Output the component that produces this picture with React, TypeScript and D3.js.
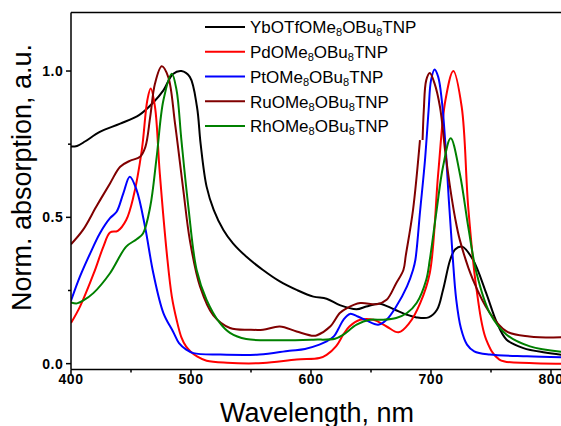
import React from "react";
import * as d3 from "d3";

// Absorption spectra, normalised, wavelength in nm
const ybNm = [400, 405, 412, 424, 441, 457, 468, 477, 485, 492, 499, 505, 508, 513, 519, 527, 535, 546, 560, 574, 588, 602, 613, 624, 638, 646, 657, 669, 680, 688, 698, 705, 710, 716, 720, 726, 735, 746, 755, 763, 777, 795, 810];
const ybAbs = [0.742, 0.744, 0.76, 0.792, 0.82, 0.85, 0.89, 0.934, 0.99, 1.0, 0.98, 0.877, 0.752, 0.605, 0.525, 0.457, 0.411, 0.366, 0.32, 0.281, 0.252, 0.229, 0.222, 0.2, 0.186, 0.195, 0.205, 0.186, 0.167, 0.158, 0.158, 0.184, 0.252, 0.355, 0.39, 0.4, 0.355, 0.241, 0.139, 0.082, 0.053, 0.038, 0.03];

const pdNm = [400, 407.5, 419, 427, 432.5, 439, 446, 452, 459, 463.6, 466.4, 470, 474, 480, 484, 488, 492, 496, 500, 505, 513, 530, 560, 588, 607, 613, 621, 627, 632, 641, 652, 663, 673, 682, 691, 699, 706, 712, 718.6, 725.6, 731, 738, 746, 757, 782, 810];
const pdAbs = [0.139, 0.195, 0.309, 0.4, 0.448, 0.454, 0.491, 0.57, 0.73, 0.9, 0.94, 0.877, 0.65, 0.37, 0.23, 0.15, 0.09, 0.058, 0.04, 0.025, 0.01, 0.003, 0.002, 0.014, 0.019, 0.03, 0.06, 0.1, 0.127, 0.15, 0.15, 0.127, 0.107, 0.139, 0.207, 0.31, 0.65, 0.9, 1.0, 0.877, 0.536, 0.252, 0.082, 0.014, 0.002, 0.0];

const ptNm = [400, 407.5, 416, 424, 432.5, 438, 443.6, 449, 454.7, 461.7, 468.6, 477, 485, 490, 496, 502, 524, 557, 582, 595, 607, 613, 619, 623, 627, 632.5, 639, 646, 656, 663, 671, 680, 685, 687, 691, 695, 698, 700, 703, 706, 709, 712, 715, 718, 721, 725, 730, 736, 749, 780, 810];
const ptAbs = [0.215, 0.298, 0.377, 0.445, 0.497, 0.519, 0.582, 0.639, 0.593, 0.468, 0.309, 0.173, 0.11, 0.07, 0.048, 0.036, 0.031, 0.031, 0.044, 0.05, 0.065, 0.076, 0.093, 0.12, 0.15, 0.17, 0.161, 0.148, 0.133, 0.15, 0.195, 0.264, 0.32, 0.355, 0.525, 0.696, 0.866, 0.968, 1.005, 0.98, 0.9, 0.75, 0.55, 0.37, 0.22, 0.12, 0.065, 0.042, 0.031, 0.025, 0.022];

// the Ru trace has a break near 692 nm (null = gap)
const ruNm = [400, 410, 421, 432.5, 441, 449, 457.5, 462, 466, 470, 475.6, 481, 486.7, 493.6, 499, 507.5, 518.6, 532.5, 549, 560, 574, 588, 602, 605, 616, 624, 630, 641, 655, 663, 671, 677, 679, 685, 690.8, 692, 693, 694, 696, 699, 703, 707.5, 712, 716, 720, 724, 735, 749, 763, 782, 810];
const ruAbs = [0.408, 0.457, 0.536, 0.616, 0.673, 0.693, 0.707, 0.741, 0.843, 0.957, 1.016, 0.98, 0.82, 0.593, 0.423, 0.264, 0.165, 0.122, 0.116, 0.116, 0.127, 0.11, 0.095, 0.097, 0.127, 0.173, 0.19, 0.207, 0.203, 0.218, 0.275, 0.32, 0.37, 0.525, 0.764, null, 0.764, 0.866, 0.968, 0.993, 0.957, 0.877, 0.72, 0.6, 0.5, 0.423, 0.286, 0.173, 0.11, 0.093, 0.09];

const rhNm = [400, 405, 410, 418.6, 432.5, 446, 454.7, 460, 466, 471.4, 477, 484, 488, 492, 497.8, 504.7, 513, 524, 532.5, 546, 574, 602, 620, 627, 638, 649, 660, 671, 680, 688, 696, 699, 704.7, 710, 716.4, 724, 731, 738, 749, 763, 782.5, 810];
const rhAbs = [0.209, 0.206, 0.215, 0.241, 0.309, 0.4, 0.425, 0.445, 0.536, 0.707, 0.9, 0.991, 0.934, 0.764, 0.536, 0.32, 0.218, 0.139, 0.105, 0.084, 0.08, 0.082, 0.085, 0.099, 0.133, 0.15, 0.15, 0.156, 0.173, 0.207, 0.286, 0.355, 0.525, 0.673, 0.77, 0.65, 0.468, 0.309, 0.173, 0.099, 0.059, 0.04];

const seriesNames = ["YbOTfOMe_8OBu_8TNP", "PdOMe_8OBu_8TNP", "PtOMe_8OBu_8TNP", "RuOMe_8OBu_8TNP", "RhOMe_8OBu_8TNP"];
const seriesColors = ["#000000", "#ff0000", "#0000ff", "#800000", "#008000"];
const seriesNm = [ybNm, pdNm, ptNm, ruNm, rhNm];
const seriesAbs = [ybAbs, pdAbs, ptAbs, ruAbs, rhAbs];

const xMajorTicks = [400, 500, 600, 700, 800];
const xMinorTicks = [450, 550, 650, 750];
const yMajorTicks = [0.0, 0.5, 1.0];
const yMinorTicks = [0.25, 0.75];

const W = 561;
const H = 426;
const left = 71;
const top = 12.5;
const bottom = 369.5;
const FONT = "'Liberation Sans', Arial, sans-serif";

function Label({ text, x, y, size }: { text: string; x: number; y: number; size: number }) {
  const parts = text.split(/_(\d)/);
  return (
    <text x={x} y={y} fontSize={size} fontFamily={FONT} fill="#000">
      {parts.map((p, i) =>
        i % 2 === 1 ? (
          <tspan key={i} fontSize={size * 0.65} dy={3}>
            {p}
          </tspan>
        ) : (
          <tspan key={i} dy={i === 0 ? 0 : -3}>
            {p}
          </tspan>
        )
      )}
    </text>
  );
}

export default function App() {
  const x = d3.scaleLinear().domain([400, 810]).range([left, left + 410 * 1.2]);
  const y = d3.scaleLinear().domain([-0.02, 1.2]).range([bottom, top]);

  type Pt = { nm: number; v: number | null };
  const line = d3
    .line<Pt>()
    .defined((d) => d.v !== null)
    .x((d) => x(d.nm))
    .y((d) => y(d.v as number))
    .curve(d3.curveCatmullRom.alpha(0.5));

  const legendY = (i: number) => 27 + i * 24.75;

  return (
    <svg
      width={W}
      height={H}
      style={{ position: "absolute", left: 0, top: 0, background: "#fff" }}
    >
      <defs>
        <clipPath id="plot">
          <rect x={left} y={top} width={W - left} height={bottom - top} />
        </clipPath>
      </defs>

      <g clipPath="url(#plot)" fill="none" strokeWidth={2} strokeLinejoin="round">
        {seriesNm.map((nms, s) => (
          <path
            key={s}
            d={line(nms.map((nm, i) => ({ nm, v: seriesAbs[s][i] }))) || ""}
            stroke={seriesColors[s]}
          />
        ))}
      </g>

      {/* frame */}
      <g stroke="#000" strokeWidth={1.5} fill="none">
        <line x1={left} y1={top} x2={left} y2={bottom} />
        <line x1={left} y1={bottom} x2={W} y2={bottom} />
        <line x1={left} y1={top} x2={W} y2={top} />
        {xMajorTicks.map((t) => (
          <line key={"xM" + t} x1={x(t)} x2={x(t)} y1={bottom} y2={bottom + 5} />
        ))}
        {xMinorTicks.map((t) => (
          <line key={"xm" + t} x1={x(t)} x2={x(t)} y1={bottom} y2={bottom + 3} />
        ))}
        {yMajorTicks.map((t) => (
          <line key={"yM" + t} x1={left - 5} x2={left} y1={y(t)} y2={y(t)} />
        ))}
        {yMinorTicks.map((t) => (
          <line key={"ym" + t} x1={left - 3} x2={left} y1={y(t)} y2={y(t)} />
        ))}
      </g>

      {/* tick labels */}
      <g fontFamily={FONT} fontWeight="bold" fontSize={14} fill="#000">
        {xMajorTicks.map((t) => (
          <text key={"xl" + t} x={x(t)} y={383.5} textAnchor="middle" letterSpacing={0.6}>
            {t}
          </text>
        ))}
        {yMajorTicks.map((t) => (
          <text key={"yl" + t} x={63.5} y={y(t) + 5} textAnchor="end" letterSpacing={0.6}>
            {t.toFixed(1)}
          </text>
        ))}
      </g>

      {/* axis titles */}
      <text x={317} y={422} textAnchor="middle" fontFamily={FONT} fontSize={27} fill="#000">
        Wavelength, nm
      </text>
      <text
        transform={`translate(30.5,177.5) rotate(-90)`}
        textAnchor="middle"
        fontFamily={FONT}
        fontSize={27}
        fill="#000"
      >
        Norm. absorption, a.u.
      </text>

      {/* legend */}
      {seriesNames.map((name, i) => (
        <g key={name}>
          <line
            x1={205}
            x2={245}
            y1={legendY(i)}
            y2={legendY(i)}
            stroke={seriesColors[i]}
            strokeWidth={2}
          />
          <Label text={name} x={250} y={legendY(i) + 6.3} size={17} />
        </g>
      ))}
    </svg>
  );
}
